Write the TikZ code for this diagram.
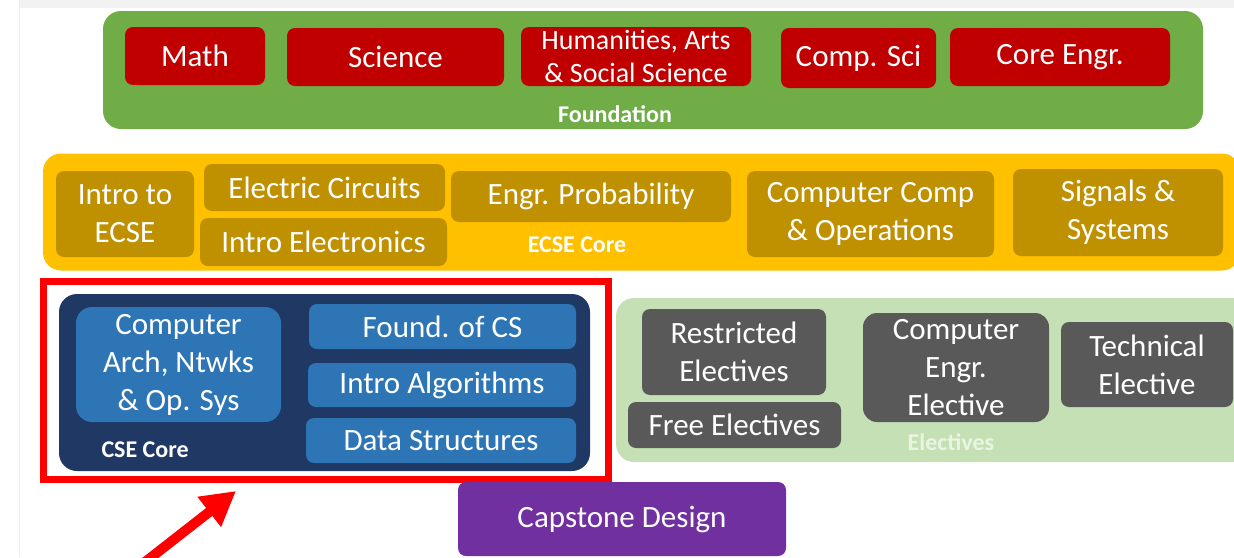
\documentclass[tikz,border=0pt]{standalone}
\usepackage{fontspec}
\setmainfont{Carlito}
\usetikzlibrary{arrows.meta}
\definecolor{fdgreen}{HTML}{70AD47}
\definecolor{fdred}{HTML}{C00000}
\definecolor{ecseyellow}{HTML}{FFC000}
\definecolor{ecsegold}{HTML}{BF9000}
\definecolor{csenavy}{HTML}{203864}
\definecolor{cseblue}{HTML}{2E75B6}
\definecolor{elgreen}{HTML}{C5E0B4}
\definecolor{elgray}{HTML}{595959}
\definecolor{elwhite}{HTML}{EAF4E3}
\definecolor{capstone}{HTML}{7030A0}
\begin{document}
\begin{tikzpicture}[x=1pt,y=-1pt,
		box/.style={rectangle,rounded corners=8pt,inner sep=0pt,align=center,text=white,font=\fontsize{31}{38}\selectfont},
		panel/.style={rectangle,rounded corners=18pt,inner sep=0pt},
		tag/.style={text=white,font=\bfseries\fontsize{24}{28}\selectfont}]
		\useasboundingbox (0,0) rectangle (1234,557);
		\clip (0,0) rectangle (1234,557);
		\fill[black!5] (19,0) rectangle (1234,8);
		\draw[black!7] (19,0) -- (19,557);
		
		\node[panel,fill=fdgreen,minimum width=1100pt,minimum height=118pt] (fnd) at (653,70) {};
		\node[box,fill=fdred,minimum width=140pt,minimum height=58pt] (math) at (195,56) {Math};
		\node[box,fill=fdred,minimum width=217pt,minimum height=58pt] (sci) at (395.5,57) {Science};
		\node[box,fill=fdred,minimum width=230pt,minimum height=59pt,font=\fontsize{28}{33}\selectfont] (hass) at (636,56.5) {Humanities, Arts\\\& Social Science};
		\node[box,fill=fdred,minimum width=155pt,minimum height=60pt] (cs) at (858.5,58) {Comp. Sci};
		\node[box,fill=fdred,minimum width=220pt,minimum height=58pt] (engr) at (1060,57) {Core Engr.};
		\node[tag] (fndlbl) at (615,114) {Foundation};
		
		\node[panel,fill=ecseyellow,minimum width=1197pt,minimum height=117pt] (ecse) at (641.5,212) {};
		\node[box,fill=ecsegold,minimum width=138pt,minimum height=86pt] (intro) at (125,214) {Intro to\\ECSE};
		\node[box,fill=ecsegold,minimum width=241pt,minimum height=47pt] (circ) at (324.5,187.5) {Electric Circuits};
		\node[box,fill=ecsegold,minimum width=247pt,minimum height=48pt] (elec) at (323.5,242) {Intro Electronics};
		\node[box,fill=ecsegold,minimum width=280pt,minimum height=51pt] (prob) at (591,196.5) {Engr. Probability};
		\node[box,fill=ecsegold,minimum width=247pt,minimum height=86pt] (comp) at (870.5,214) {Computer Comp\\\& Operations};
		\node[box,fill=ecsegold,minimum width=210pt,minimum height=87pt] (sig) at (1118,212.5) {Signals \&\\Systems};
		\node[tag] (ecselbl) at (577,245) {ECSE Core};
		
		\node[draw=red,line width=7pt,minimum width=565pt,minimum height=198pt,inner sep=0pt] (frame) at (326,380.5) {};
		\node[panel,fill=csenavy,minimum width=531pt,minimum height=177pt] (csecore) at (324.5,382.5) {};
		\node[box,fill=cseblue,minimum width=205pt,minimum height=115pt,rounded corners=16pt] (arch) at (178.5,364.5) {Computer\\Arch, Ntwks\\\& Op. Sys};
		\node[box,fill=cseblue,minimum width=267pt,minimum height=45pt] (fcs) at (442.5,326.5) {Found. of CS};
		\node[box,fill=cseblue,minimum width=268pt,minimum height=44pt] (algo) at (442,385) {Intro Algorithms};
		\node[box,fill=cseblue,minimum width=270pt,minimum height=45pt] (ds) at (441,440.5) {Data Structures};
		\node[tag,anchor=west] (cselbl) at (98,450) {CSE Core};
		
		\node[panel,fill=elgreen,minimum width=634pt,minimum height=164pt] (elect) at (933,380) {};
		\node[box,fill=elgray,minimum width=184pt,minimum height=86pt] (restr) at (734,352) {Restricted\\Electives};
		\node[box,fill=elgray,minimum width=213pt,minimum height=46pt] (free) at (734.5,425) {Free Electives};
		\node[box,fill=elgray,minimum width=186pt,minimum height=109pt,rounded corners=14pt] (ceel) at (956,367.5) {Computer\\Engr.\\Elective};
		\node[box,fill=elgray,minimum width=172pt,minimum height=85pt] (tech) at (1147,364.5) {Technical\\Elective};
		\node[tag,text=elwhite] (electlbl) at (951,442) {Electives};
		
		\node[box,fill=capstone,minimum width=328pt,minimum height=74pt] (cap) at (622,519) {Capstone Design};
		
		\coordinate (tail) at (140,566);
		\coordinate (tip) at (236,491);
		\draw[-{Triangle[width=36pt,length=34pt]},line width=10pt,red] (tail) -- (tip);
		\end{tikzpicture}
\end{document}
